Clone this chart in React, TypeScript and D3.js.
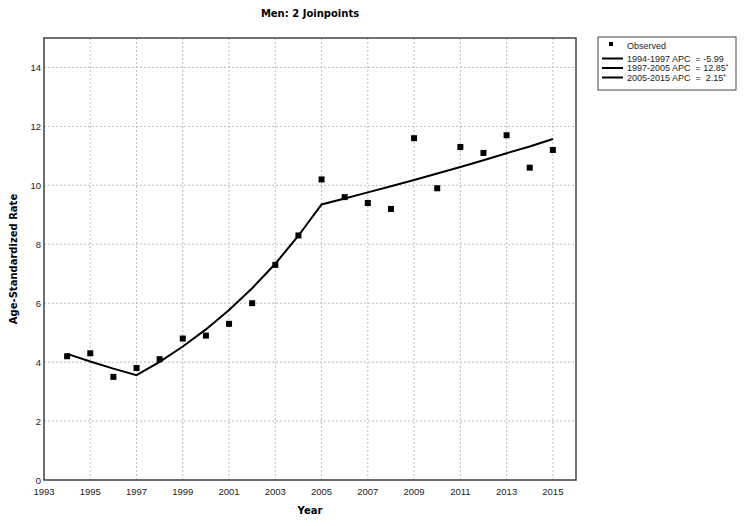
import React from "react";
import { scaleLinear, line, range } from "d3";

// observed age-standardized rates
const years = [1994, 1995, 1996, 1997, 1998, 1999, 2000, 2001, 2002, 2003, 2004,
  2005, 2006, 2007, 2008, 2009, 2010, 2011, 2012, 2013, 2014, 2015];
const observed = [4.2, 4.3, 3.5, 3.8, 4.1, 4.8, 4.9, 5.3, 6.0, 7.3, 8.3,
  10.2, 9.6, 9.4, 9.2, 11.6, 9.9, 11.3, 11.1, 11.7, 10.6, 11.2];
// joinpoint model fit
const fitted = [4.28, 4.02, 3.78, 3.56, 4.01, 4.53, 5.11, 5.77, 6.51, 7.34, 8.29,
  9.35, 9.55, 9.76, 9.97, 10.18, 10.4, 10.62, 10.85, 11.09, 11.32, 11.57];

const legendLabels = ["1994-1997 APC  = -5.99", "1997-2005 APC  = 12.85", "2005-2015 APC  =  2.15"];
const legendStars = ["", "*", "*"];
const xTickValues = range(1993, 2016, 2);
const yTickValues = range(0, 15, 2);

export default function App() {
  const width = 744, height = 526;
  const left = 44, right = 576, top = 38, bottom = 480;
  const bold = "'DejaVu Sans', Verdana, sans-serif";
  const font = "'Liberation Sans', Arial, sans-serif";

  const x = scaleLinear().domain([1993, 2016]).range([left, right]);
  const y = scaleLinear().domain([0, 15]).range([bottom, top]);

  const fitLine = line<number>()
    .x((d, i) => x(years[i]))
    .y(d => y(d));

  return (
    <svg width={width} height={height} style={{ position: "absolute", left: 0, top: 0, background: "white" }}>
      <text x={(left + right) / 2} y={17} textAnchor="middle" fontFamily={bold} fontWeight="bold" fontSize={10}>
        Men: 2 Joinpoints
      </text>

      {/* grid */}
      {xTickValues.map(t => (
        <line key={"gx" + t} x1={x(t)} x2={x(t)} y1={top} y2={bottom} stroke="#bdbdbd" strokeDasharray="2,2" />
      ))}
      {yTickValues.map(t => (
        <line key={"gy" + t} x1={left} x2={right} y1={y(t)} y2={y(t)} stroke="#bdbdbd" strokeDasharray="2,2" />
      ))}

      <rect x={left} y={top} width={right - left} height={bottom - top} fill="none" stroke="#444" strokeWidth={1.5} />

      {/* tick labels */}
      {xTickValues.map(t => (
        <text key={"tx" + t} x={x(t)} y={bottom + 15} textAnchor="middle" fontFamily={font} fontSize={9.5} fill="#222">
          {t}
        </text>
      ))}
      {yTickValues.map(t => (
        <text key={"ty" + t} x={left - 3} y={y(t) + 4} textAnchor="end" fontFamily={font} fontSize={9.5} fill="#222">
          {t}
        </text>
      ))}

      <text x={(left + right) / 2} y={514} textAnchor="middle" fontFamily={bold} fontWeight="bold" fontSize={10}>
        Year
      </text>
      <text transform={`translate(17, ${(top + bottom) / 2}) rotate(-90)`} textAnchor="middle" fontFamily={bold} fontWeight="bold" fontSize={10}>
        Age-Standardized Rate
      </text>

      <path d={fitLine(fitted) ?? ""} fill="none" stroke="black" strokeWidth={2} />
      {observed.map((v, i) => (
        <rect key={"p" + i} x={x(years[i]) - 3} y={y(v) - 3} width={6} height={6} fill="black" />
      ))}

      {/* legend */}
      <g>
        <rect x={598} y={37} width={138} height={53} fill="white" stroke="#444" />
        <rect x={609} y={42} width={4} height={4} fill="black" />
        <text x={627} y={49} fontFamily={font} fontSize={9} fill="#222">Observed</text>
        {legendLabels.map((s, i) => (
          <g key={s}>
            <line x1={602} x2={623} y1={58.5 + i * 9.5} y2={58.5 + i * 9.5} stroke="black" strokeWidth={2} />
            <text x={627} y={61.5 + i * 9.5} fontFamily={font} fontSize={9} fill="#222" style={{ whiteSpace: "pre" }}>
              {s}
              <tspan fontSize={6.5} dy={-2}>{legendStars[i]}</tspan>
            </text>
          </g>
        ))}
      </g>
    </svg>
  );
}
